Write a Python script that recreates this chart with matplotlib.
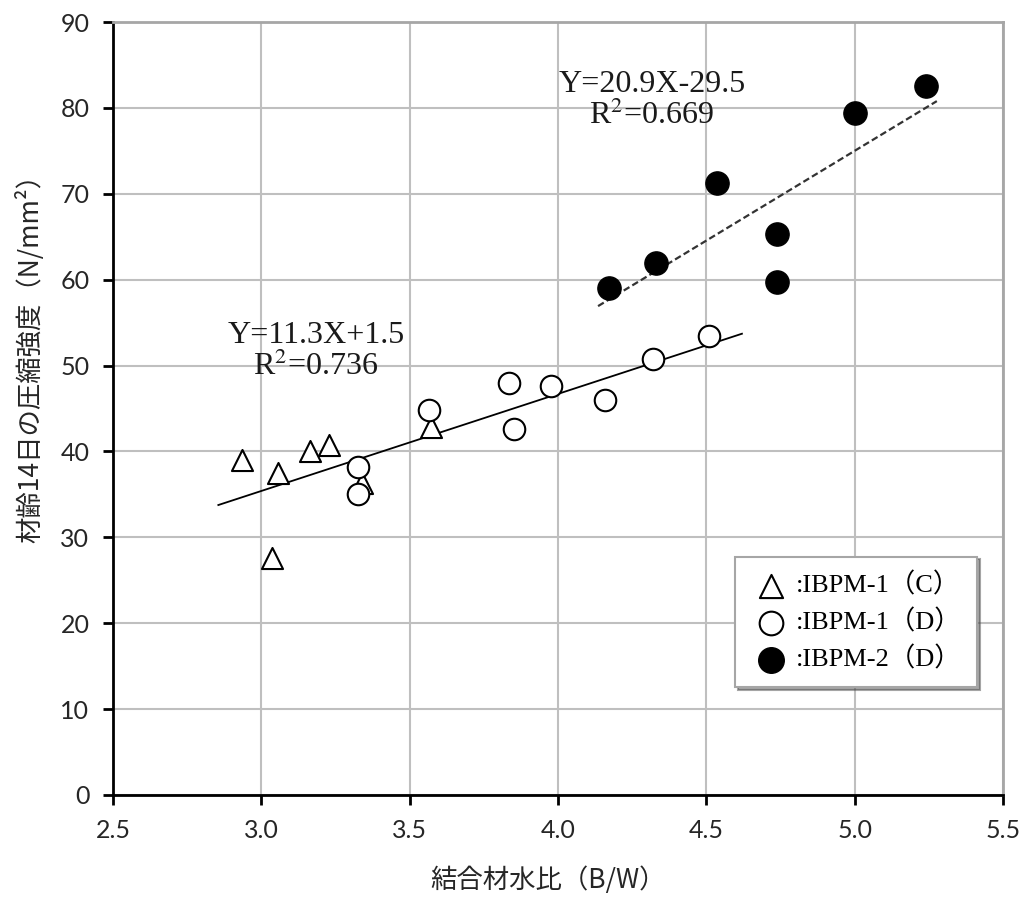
import matplotlib
matplotlib.use("Agg")
import matplotlib.pyplot as plt
import numpy as np
from matplotlib.font_manager import FontProperties

plt.rcParams["mathtext.fontset"] = "stix"

# data
tri_x = [2.935, 3.056, 3.164, 3.228, 3.572, 3.339, 3.036]
tri_y = [39.0, 37.5, 40.0, 40.7, 42.8, 36.3, 27.6]

open_x = [3.326, 3.326, 3.565, 3.835, 3.851, 3.976, 4.158, 4.320, 4.509]
open_y = [38.2, 35.0, 44.8, 48.0, 42.6, 47.6, 46.0, 50.8, 53.4]

fill_x = [4.172, 4.330, 4.536, 4.738, 4.738, 5.001, 5.240]
fill_y = [59.0, 61.9, 71.2, 65.3, 59.7, 79.4, 82.5]

# regression lines: slope, intercept, x range
fit1 = (11.3, 1.5, [2.855, 4.62])
fit2 = (20.9, -29.5, [4.135, 5.277])

labels = [":IBPM-1（C）", ":IBPM-1（D）", ":IBPM-2（D）"]

serif = ["Liberation Serif", "Noto Sans CJK JP"]
cjk = ["Noto Sans CJK JP", "DejaVu Sans"]

fig = plt.figure(figsize=(10.22, 8.98), dpi=100)
ax = fig.add_axes([0.1106, 0.1147, 0.8708, 0.8608])

ax.set_xlim(2.5, 5.5)
ax.set_ylim(0, 90)
ax.set_xticks(np.arange(2.5, 5.51, 0.5))
ax.set_yticks(np.arange(0, 91, 10))
ax.set_xticklabels([f"{v:.1f}" for v in np.arange(2.5, 5.51, 0.5)])
ax.grid(True, color="#bfbfbf", linewidth=1.5)
ax.set_axisbelow(True)

for s in ["top", "right"]:
    ax.spines[s].set_color("#a6a6a6")
    ax.spines[s].set_linewidth(2)
for s in ["left", "bottom"]:
    ax.spines[s].set_color("black")
    ax.spines[s].set_linewidth(2)
ax.tick_params(direction="out", length=7, width=2, labelsize=18, pad=10)
for lbl in ax.get_xticklabels() + ax.get_yticklabels():
    lbl.set_family("Lato")
    lbl.set_color("#262626")

# fit lines
xs1 = np.array(fit1[2])
ax.plot(xs1, fit1[0] * xs1 + fit1[1], color="black", linewidth=1.3, zorder=2)
xs2 = np.array(fit2[2])
ax.plot(xs2, fit2[0] * xs2 + fit2[1], color="#333333", linewidth=1.6,
        linestyle=(0, (3, 1.5)), zorder=2)

h1 = ax.scatter(tri_x, tri_y, marker="^", s=230, facecolors="white",
                edgecolors="black", linewidths=1.5, zorder=3)
h2 = ax.scatter(open_x, open_y, marker="o", s=240, facecolors="white",
                edgecolors="black", linewidths=1.5, zorder=4)
h3 = ax.scatter(fill_x, fill_y, marker="o", s=280, facecolors="black",
                edgecolors="black", linewidths=1.0, zorder=4)

ax.text(3.184, 51.6, "Y=11.3X+1.5\nR$^2$=0.736", family=serif, fontsize=23,
        ha="center", va="center", linespacing=1.05, color="#1a1a1a")
ax.text(4.317, 80.9, "Y=20.9X-29.5\nR$^2$=0.669", family=serif, fontsize=23,
        ha="center", va="center", linespacing=1.05, color="#1a1a1a")

leg = ax.legend([h1, h2, h3], labels, loc="lower right",
                bbox_to_anchor=(0.986, 0.122),
                prop=FontProperties(family=serif, size=19),
                frameon=True, fancybox=False, shadow=True,
                edgecolor="#a6a6a6", handletextpad=0.2, labelspacing=0.45,
                borderpad=0.6, handlelength=1.5, markerscale=1.1)
leg.get_frame().set_linewidth(1.5)

ax.set_xlabel("結合材水比（B/W）", family=cjk, fontsize=19, color="#262626",
              va="center")
ax.set_ylabel("材齢14日の圧縮強度（N/mm²）", family=cjk, fontsize=19,
              color="#262626", va="center")
ax.xaxis.set_label_coords(0.489, -0.11)
ax.yaxis.set_label_coords(-0.093, 0.573)

fig.savefig("out.png", dpi=100)
